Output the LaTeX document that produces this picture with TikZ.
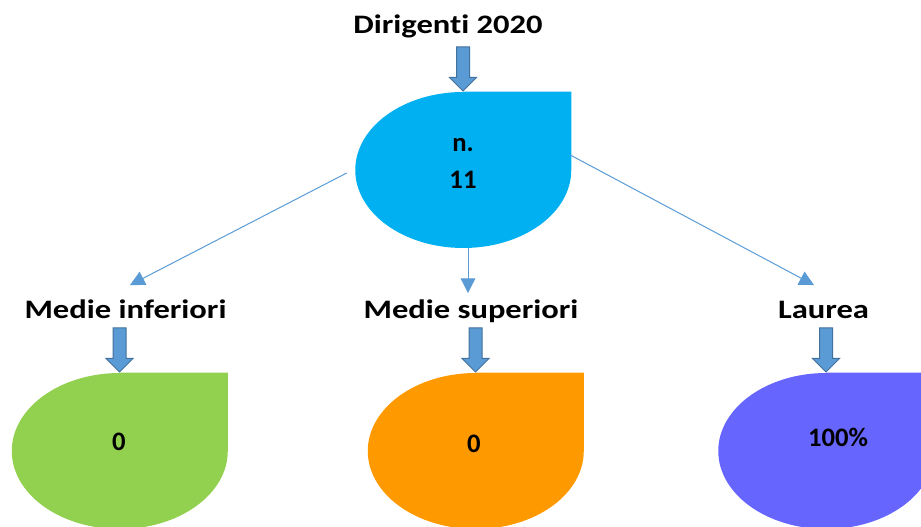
\documentclass[tikz,border=0pt]{standalone}
\usepackage{fontspec}
\setmainfont{Carlito}[Ligatures=NoCommon]
\newfontfamily\wideface{Carlito}[FakeStretch=1.22,Ligatures=NoCommon]
\usetikzlibrary{arrows.meta,shapes.arrows,backgrounds,calc}

\definecolor{dropcyan}{RGB}{0,176,240}
\definecolor{dropgreen}{RGB}{146,208,80}
\definecolor{droporange}{RGB}{255,153,0}
\definecolor{droppurple}{RGB}{102,102,255}
\definecolor{arrfill}{RGB}{91,155,213}
\definecolor{arredge}{RGB}{65,113,156}

\begin{document}
\begin{tikzpicture}[x=0.75pt,y=0.75pt,yscale=-1,xscale=1,
	lbl/.style={font=\wideface\fontsize{20}{24}\selectfont\bfseries, inner sep=0.75pt, text height=14pt, text depth=0pt},
	drop/.style={minimum width=162pt, minimum height=117pt, inner sep=0pt},
	dtxt/.style={font=\fontsize{20}{27.75}\selectfont\bfseries, inner sep=0pt, align=center},
	blockarr/.style={single arrow, shape border rotate=270, draw=arredge, fill=arrfill, line width=0.75pt, minimum height=33pt, minimum width=19.5pt, single arrow head extend=5.25pt, inner sep=4.5pt},
	conn/.style={draw=arrfill, line width=0.75pt, -{Triangle[length=11pt,width=11pt]}}]
	\useasboundingbox (0,0) rectangle (921,527);

	% Text Node
	\node[lbl,anchor=base] (ttl) at (448,34) {Dirigenti 2020};
	% Text Node
	\node[lbl,anchor=base] (infl) at (125.5,319) {Medie inferiori};
	% Text Node
	\node[lbl,anchor=base] (supl) at (471,319) {Medie superiori};
	% Text Node
	\node[lbl,anchor=base] (laul) at (823.5,319) {Laurea};

	% Teardrops
	\node[drop] (dir) at (463,170) {};
	\node[drop] (inf) at (119.5,451) {};
	\node[drop] (sup) at (475.5,451) {};
	\node[drop] (lau) at (826,451) {};
	\begin{scope}[on background layer]
		\foreach \n/\c in {dir/dropcyan,inf/dropgreen,sup/droporange,lau/droppurple}
			\fill[\c] (\n.north) -- (\n.north east) -- (\n.east) arc[start angle=0,end angle=270,x radius=81pt,y radius=58.5pt] -- cycle;
	\end{scope}

	% Text in teardrops
	\node[dtxt,anchor=base] (dirv) at (463,189) {n.\\11};
	\node[dtxt,anchor=base] (infv) at (119,450) {0};
	\node[dtxt,anchor=base] (supv) at (474,452) {0};
	\node[dtxt,anchor=base] (lauv) at (838,446) {100\%};

	% Block arrows
	\foreach \n in {dir,inf,sup,lau}
		\node[blockarr] at ($(\n.north)+(0,-26)$) {};

	% Straight Lines
	\draw[conn] ($(dir.west)+(-8,3)$) -- ($(infl.north)+(4.5,-14)$);
	\draw[conn] ($(dir.south)+(5,0)$) -- ($(supl.north)+(-3,-6)$);
	\draw[conn] ($(dir.east)+(-1,-15)$) -- ($(laul.north)+(-9.5,-14)$);
\end{tikzpicture}
\end{document}
